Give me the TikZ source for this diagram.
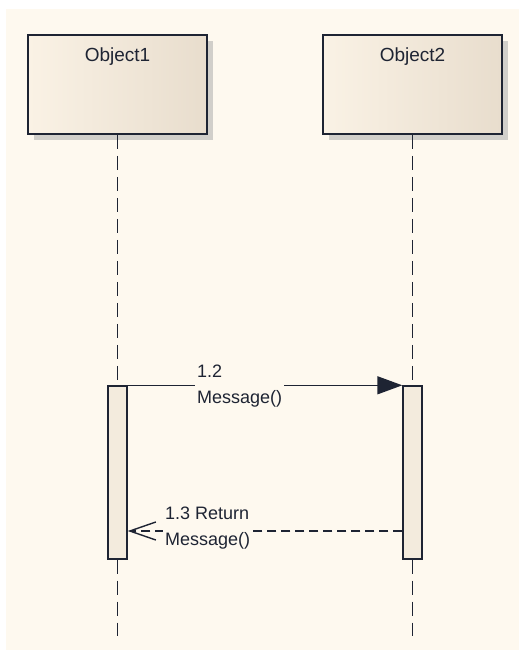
\documentclass[tikz,border=0pt]{standalone}
\usepackage{fontspec}
\setmainfont{Liberation Sans}
\usetikzlibrary{arrows.meta, positioning, calc, shadows}
\definecolor{pagebg}{HTML}{FEF9EF}
\definecolor{objleft}{HTML}{FAF2E5}
\definecolor{objright}{HTML}{E8DDCD}
\definecolor{actfill}{HTML}{F3EBDD}
\definecolor{inkdark}{HTML}{1E2433}

\begin{document}
\begin{tikzpicture}[
    x=1pt, y=-1pt,
    every node/.style={text=inkdark, font=\fontsize{19}{23}\selectfont},
    objbox/.style={rectangle, draw=inkdark, line width=1.8pt,
      minimum width=179pt, minimum height=99pt, inner sep=0pt,
      left color=objleft, right color=objright,
      drop shadow={shadow xshift=6pt, shadow yshift=-6pt, fill=black!35}},
    actbar/.style={rectangle, draw=inkdark, line width=1.4pt, fill=actfill,
      minimum width=19pt, minimum height=173pt, inner sep=0pt},
    lifeline/.style={draw=inkdark, line width=1.6pt, dash pattern=on 14pt off 7pt},
    callmsg/.style={draw=inkdark, line width=1.4pt,
      -{Triangle[length=25pt, width=18pt]}},
    returnmsg/.style={draw=inkdark, line width=1.4pt, dash pattern=on 9pt off 5pt,
      -{Straight Barb[length=26pt, width=18pt, line width=1.4pt]}},
    msglabel/.style={fill=pagebg, align=left, anchor=west, inner sep=2pt,
      font=\fontsize{18}{26}\selectfont},
  ]

  % Background
  \useasboundingbox (0,0) rectangle (519,650);
  \fill[white] (0,0) rectangle (519,650);
  \fill[pagebg] (6,9) rectangle (519,650);

  % Objects
  \node[objbox, label={[anchor=north, yshift=-10pt]north:Object1}] (obj1) at (117.5,84.5) {};
  \node[objbox, label={[anchor=north, yshift=-10pt]north:Object2}] (obj2) at (412.5,84.5) {};

  % Activations
  \node[actbar] (act1) at (117.5,472.5) {};
  \node[actbar] (act2) at (412.5,472.5) {};

  % Lifeline ends
  \coordinate (end1) at (117.5,636);
  \coordinate (end2) at (412.5,636);

  % Lifelines
  \draw[lifeline] (obj1.south) -- (act1.north);
  \draw[lifeline] (act1.south) -- (end1);
  \draw[lifeline] (obj2.south) -- (act2.north);
  \draw[lifeline] (act2.south) -- (end2);

  % Messages
  \draw[callmsg] (act1.north east) -- (act2.north west);
  \node[msglabel] (call) at (195,386) {1.2\\Message()};

  \coordinate (ret2) at (act2.west |- 0,531);
  \coordinate (ret1) at (act1.east |- 0,531);
  \draw[returnmsg] (ret2) -- (ret1);
  \node[msglabel] (ret) at (163,528) {1.3 Return\\Message()};

\end{tikzpicture}
\end{document}
